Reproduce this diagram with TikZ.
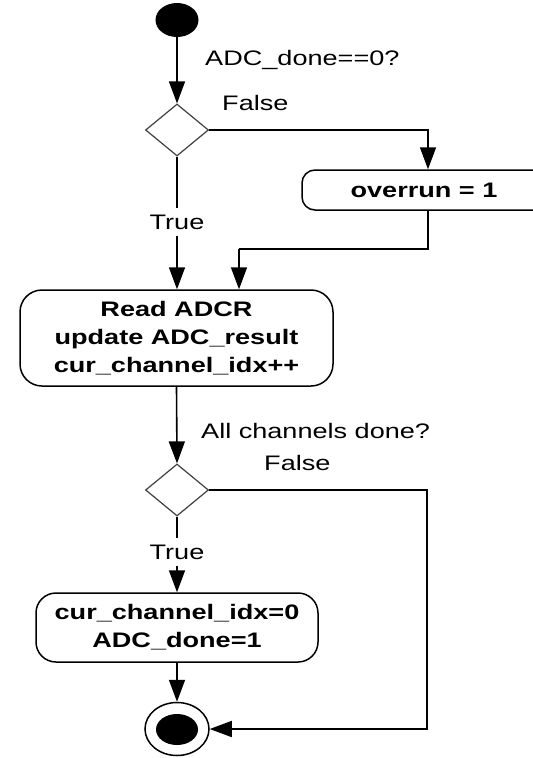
\documentclass[tikz,border=0pt]{standalone}
\usepackage{fontspec}
\setmainfont{Liberation Sans}[FakeStretch=1.29]
\usetikzlibrary{shapes.geometric,arrows.meta}
\newcommand{\bigfont}{\fontsize{21}{28}\selectfont}
\tikzset{
  conn/.style={line width=1.6pt, -{Triangle[length=22pt,width=16pt]}},
  plainline/.style={line width=1.6pt},
  decision/.style={diamond, draw=black!75, line width=1.2pt, inner sep=0pt, minimum width=63pt, minimum height=52pt, aspect=1.2},
  actbox/.style={draw, line width=1.5pt, rounded corners=22pt, inner sep=0pt, align=center, font=\bigfont\bfseries},
  guard/.style={inner sep=0pt, anchor=base west},
  truelbl/.style={inner xsep=0pt, inner ysep=6pt}
}
\begin{document}
\begin{tikzpicture}[x=1pt, y=-1pt, font=\bigfont]
\useasboundingbox (0,0) rectangle (533,758);
\clip (0,0) rectangle (533,758);
\fill[white] (0,0) rectangle (533,758);

% nodes
\node[ellipse, fill=black, inner sep=0pt, minimum width=43pt, minimum height=34pt] (start) at (177,20) {};
\node[decision] (d1) at (177,130) {};
\node[actbox, rounded corners=13pt, minimum width=252pt, minimum height=40pt] (ovr) at (428,190) {};
\node[font=\bigfont\bfseries, inner sep=0pt] (ovrtext) at (424,190) {overrun = 1};
\node[truelbl] (t1) at (177,222) {True};
\node[actbox, minimum width=313pt, minimum height=96pt] (read) at (176.5,338) {Read ADCR\\update ADC\_result\\cur\_channel\_idx++};
\node[decision] (d2) at (177,490) {};
\node[truelbl] (t2) at (177,552) {True};
\node[actbox, rounded corners=20pt, minimum width=282pt, minimum height=69pt] (reset) at (177,627.5) {cur\_channel\_idx=0\\ADC\_done=1};
\node[ellipse, draw, line width=1.5pt, inner sep=0pt, minimum width=64pt, minimum height=53pt] (endo) at (177,729) {};
\node[ellipse, fill=black, inner sep=0pt, minimum width=42pt, minimum height=31pt] (endi) at (177,729.5) {};

% guard labels
\node[guard] (g1) at (205,65) {ADC\_done==0?};
\node[guard] (f1) at (222,110) {False};
\node[guard] (g2) at (201,438) {All channels done?};
\node[guard] (f2) at (264,470) {False};

% coordinates
\coordinate (m1) at (239,249);
\coordinate (c2) at (427,490);

% connectors
\draw[conn] (start) -- (d1.north);
\draw[conn] (d1.east) -| (ovr.north);
\draw[plainline] (d1.south) -- (t1.north);
\draw[conn] (t1.south) -- (t1.south |- read.north);
\draw[plainline] (ovr.south) |- (m1);
\draw[conn] (m1) -- (m1 |- read.north);
\draw[conn] (read.south) -- (d2.north);
\draw[plainline] (d2.south) -- (t2.north);
\draw[conn] (t2.south) -- (reset.north);
\draw[conn] (reset.south) -- (endo.north);
\draw[conn] (d2.east) -- (c2) |- (endo.east);
\end{tikzpicture}
\end{document}
